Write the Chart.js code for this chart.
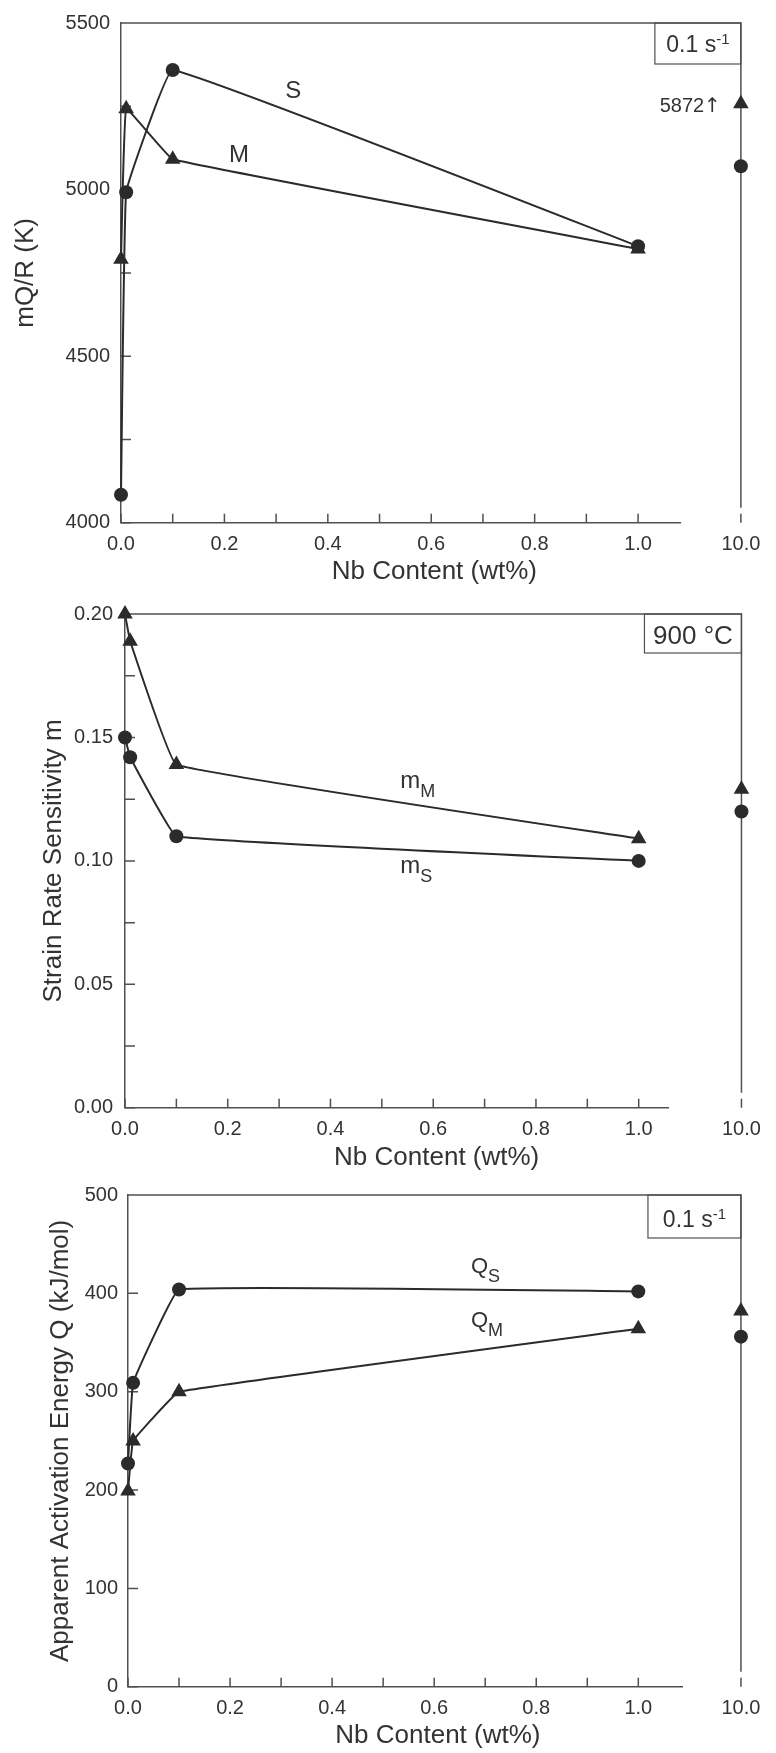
<!DOCTYPE html>
<html>
<head>
<meta charset="utf-8">
<script src="https://cdn.jsdelivr.net/npm/chart.js@4.4.1/dist/chart.umd.min.js"></script>
<style>
  body { margin: 0; background: #fff; }
  .panel { position: absolute; left: 0; }
</style>
</head>
<body>
<div class="panel" style="top:0px"><canvas id="c1" width="776" height="590"></canvas></div>
<div class="panel" style="top:590px"><canvas id="c2" width="776" height="583"></canvas></div>
<div class="panel" style="top:1173px"><canvas id="c3" width="776" height="580"></canvas></div>

<script>
// Nb content (wt%) - main part of the axis and the point past the break
const nbMain = [0, 0.01, 0.1, 1.0];
const nbFar = [10.0];

// panel 1: mQ/R (K) at 0.1 s-1
const mqrS = [4084, 4992, 5359, 4830];
const mqrSFar = [5070];
const mqrM = [4791, 5243, 5091, 4822];
const mqrMFar = [5258];      // drawn at the top, real value below
const mqrMFarReal = 5872;

// panel 2: strain rate sensitivity at 900 C
const mM = [0.200, 0.189, 0.139, 0.109];
const mMFar = [0.129];
const mS = [0.150, 0.142, 0.110, 0.100];
const mSFar = [0.120];

// panel 3: apparent activation energy (kJ/mol) at 0.1 s-1
const qS = [227, 309, 404, 402];
const qSFar = [356];
const qM = [199, 250, 300, 364];
const qMFar = [382];

const INK = '#2b2b2b';
const AX = '#505050';
const TXT = '#333';
const FAM = '"Liberation Sans", Arial, sans-serif';
Chart.defaults.font.family = FAM;

function pts(xs, ys) { return xs.map((x, i) => ({x: x, y: ys[i]})); }

function drawSub(ctx, main, sub, x, y, size, subSize, align) {
  ctx.font = size + 'px ' + FAM;
  const w1 = ctx.measureText(main).width;
  ctx.font = subSize + 'px ' + FAM;
  const w2 = ctx.measureText(sub).width;
  let x0 = x;
  if (align === 'center') x0 = x - (w1 + w2) / 2;
  ctx.textAlign = 'left';
  ctx.textBaseline = 'alphabetic';
  ctx.font = size + 'px ' + FAM;
  ctx.fillText(main, x0, y);
  ctx.font = subSize + 'px ' + FAM;
  ctx.fillText(sub, x0 + w1, y + 9);
}

function decor(cfg) {
  return {
    id: 'decor',
    beforeDatasetsDraw(chart) {
      const {ctx, chartArea: a, scales} = chart;
      const xr = scales.x2.getPixelForValue(nbFar[0]);
      ctx.save();
      ctx.strokeStyle = AX;
      ctx.lineWidth = 1.5;
      ctx.beginPath();
      [scales.x, scales.x2].forEach(s => s.ticks.forEach(t => {
        const p = s.getPixelForValue(t.value);
        ctx.moveTo(p, a.bottom);
        ctx.lineTo(p, a.bottom - 9);
      }));
      scales.y.ticks.forEach(t => {
        const p = scales.y.getPixelForValue(t.value);
        ctx.moveTo(a.left, p);
        ctx.lineTo(a.left + 10, p);
      });
      ctx.moveTo(a.left, a.top);
      ctx.lineTo(xr, a.top);
      ctx.lineTo(xr, a.bottom - 15);
      ctx.stroke();
      ctx.lineWidth = 1.2;
      ctx.strokeRect(xr - cfg.box.w, a.top, cfg.box.w, cfg.box.h);
      ctx.restore();
    },
    afterDatasetsDraw(chart) {
      const {ctx, chartArea: a, scales} = chart;
      const xr = scales.x2.getPixelForValue(nbFar[0]);
      ctx.save();
      ctx.fillStyle = TXT;
      // condition box
      const b = cfg.box;
      ctx.font = b.size + 'px ' + FAM;
      const w1 = ctx.measureText(b.text).width;
      let w2 = 0;
      if (b.sup) { ctx.font = b.supSize + 'px ' + FAM; w2 = ctx.measureText(b.sup).width; }
      const x0 = xr - b.w / 2 - (w1 + w2) / 2;
      const yb = a.top + b.h - b.below;
      ctx.textAlign = 'left';
      ctx.textBaseline = 'alphabetic';
      ctx.font = b.size + 'px ' + FAM;
      ctx.fillText(b.text, x0, yb);
      if (b.sup) {
        ctx.font = b.supSize + 'px ' + FAM;
        ctx.fillText(b.sup, x0 + w1, yb - 8);
      }
      // curve names
      cfg.labels.forEach(l => {
        const px = scales.x.getPixelForValue(l.x);
        const py = scales.y.getPixelForValue(l.y);
        if (l.sub) {
          drawSub(ctx, l.text, l.sub, px, py, l.size, 18, l.align || 'left');
        } else {
          ctx.font = l.size + 'px ' + FAM;
          ctx.textAlign = 'center';
          ctx.textBaseline = 'middle';
          ctx.fillText(l.text, px, py);
        }
      });
      if (cfg.offscale) {
        const py = scales.y.getPixelForValue(cfg.offscale.y) + 3;
        ctx.textBaseline = 'middle';
        ctx.textAlign = 'right';
        ctx.font = '20px "DejaVu Sans", sans-serif';
        ctx.fillText('\u2191', xr - 20, py);
        const aw = ctx.measureText('\u2191').width;
        ctx.font = '20px ' + FAM;
        ctx.fillText(String(cfg.offscale.value), xr - 20 - aw, py);
      }
      ctx.restore();
    }
  };
}

function panel(id, o) {
  const datasets = [];
  o.series.forEach(s => {
    const common = {
      borderColor: INK, borderWidth: 2, backgroundColor: INK,
      pointStyle: s.style, pointRadius: s.r, pointHoverRadius: s.r,
      pointBackgroundColor: INK, pointBorderColor: INK, pointBorderWidth: 0,
      clip: false
    };
    datasets.push(Object.assign({data: pts(nbMain, s.main), showLine: true, tension: 0.06, xAxisID: 'x', yAxisID: 'y'}, common));
    datasets.push(Object.assign({data: pts(nbFar, s.far), showLine: false, xAxisID: 'x2', yAxisID: 'y'}, common));
  });
  const tickFont = {size: 20, family: FAM};
  return new Chart(document.getElementById(id), {
    type: 'scatter',
    data: {datasets: datasets},
    options: {
      responsive: false,
      animation: false,
      layout: {padding: {left: 0, top: o.padTop, right: o.padRight, bottom: o.padBottom}},
      plugins: {
        legend: {display: false},
        tooltip: {enabled: false},
        title: {
          display: true, text: 'Nb Content (wt%)', position: 'bottom', fullSize: false,
          font: {size: 26, family: FAM, weight: 'normal'}, color: TXT, padding: {top: 0, bottom: 0}
        }
      },
      scales: {
        x: {
          type: 'linear', position: 'bottom', stack: 'nb', stackWeight: o.wMain,
          min: 0, max: o.xMax,
          border: {display: true, color: AX, width: 1.5},
          grid: {display: false, drawTicks: false},
          ticks: {
            stepSize: 0.1, includeBounds: false, autoSkip: false, maxRotation: 0,
            padding: 10, font: tickFont, color: TXT,
            callback: v => (Math.round(v * 10) % 2 === 0 ? v.toFixed(1) : '')
          },
          afterFit: s => { s.height = o.xh; }
        },
        x2: {
          type: 'linear', position: 'bottom', stack: 'nb', stackWeight: o.wFar,
          min: o.x2Min, max: 10.07,
          border: {display: false},
          grid: {display: false, drawTicks: false},
          afterBuildTicks: s => { s.ticks = nbFar.map(v => ({value: v})); },
          ticks: {padding: 10, font: tickFont, color: TXT, maxRotation: 0, callback: v => v.toFixed(1)},
          afterFit: s => { s.height = o.xh; }
        },
        y: {
          position: 'left', min: o.yMin, max: o.yMax,
          border: {display: true, color: AX, width: 1.5},
          grid: {display: false, drawTicks: false},
          ticks: {stepSize: o.yStep, autoSkip: false, padding: o.yPad, font: tickFont, color: TXT, callback: o.yLabel},
          title: {display: true, text: o.yTitle, color: TXT, font: {size: 26, family: FAM}, padding: {top: o.yTitlePad, bottom: 0}},
          afterFit: s => { s.width = o.yw; }
        }
      }
    },
    plugins: [decor(o.decor)]
  });
}

panel('c1', {
  series: [
    {main: mqrM, far: mqrMFar, style: 'triangle', r: 9},
    {main: mqrS, far: mqrSFar, style: 'circle', r: 7}
  ],
  padTop: 22, padRight: 21, padBottom: 3, xh: 33, yw: 121,
  wMain: 566, wFar: 68, xMax: 1.0822, x2Min: 9.39,
  yMin: 4000, yMax: 5500, yStep: 250, yPad: 11,
  yLabel: v => (v % 500 === 0 ? String(v) : ''),
  yTitle: 'mQ/R (K)', yTitlePad: 10,
  decor: {
    box: {w: 86, h: 41, text: '0.1 s', sup: '-1', size: 23, supSize: 15, below: 12},
    labels: [
      {x: 0.333, y: 5296, text: 'S', size: 24},
      {x: 0.228, y: 5102, text: 'M', size: 24}
    ],
    offscale: {value: mqrMFarReal, y: mqrMFar[0]}
  }
});

panel('c2', {
  series: [
    {main: mM, far: mMFar, style: 'triangle', r: 9},
    {main: mS, far: mSFar, style: 'circle', r: 7}
  ],
  padTop: 17, padRight: 17, padBottom: 0, xh: 34, yw: 125,
  wMain: 553, wFar: 81, xMax: 1.0584, x2Min: 9.26,
  yMin: 0, yMax: 0.2, yStep: 0.025, yPad: 12,
  yLabel: v => (Math.round(v * 1000) % 50 === 0 ? v.toFixed(2) : ''),
  yTitle: 'Strain Rate Sensitivity m', yTitlePad: 38,
  decor: {
    box: {w: 97, h: 39, text: '900 \u00B0C', size: 26, below: 9},
    labels: [
      {x: 0.536, y: 0.1297, text: 'm', sub: 'M', size: 24},
      {x: 0.536, y: 0.095, text: 'm', sub: 'S', size: 24}
    ]
  }
});

panel('c3', {
  series: [
    {main: qM, far: qMFar, style: 'triangle', r: 9},
    {main: qS, far: qSFar, style: 'circle', r: 7}
  ],
  padTop: 13, padRight: 14, padBottom: 2, xh: 33, yw: 128,
  wMain: 567, wFar: 67, xMax: 1.0862, x2Min: 9.40,
  yMin: 0, yMax: 500, yStep: 100, yPad: 10,
  yLabel: v => String(v),
  yTitle: 'Apparent Activation Energy Q (kJ/mol)', yTitlePad: 45,
  decor: {
    box: {w: 93, h: 43, text: '0.1 s', sup: '-1', size: 23, supSize: 15, below: 11},
    labels: [
      {x: 0.672, y: 421, text: 'Q', sub: 'S', size: 22},
      {x: 0.672, y: 366, text: 'Q', sub: 'M', size: 22}
    ]
  }
});
</script>
</body>
</html>
